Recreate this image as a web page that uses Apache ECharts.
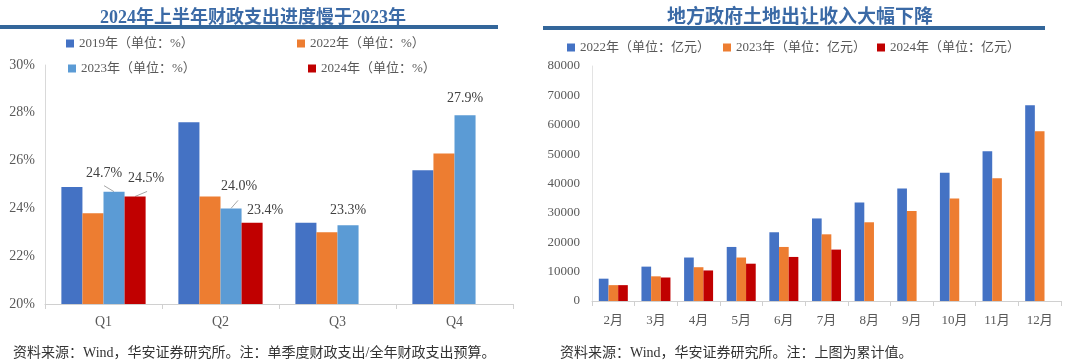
<!DOCTYPE html>
<html><head><meta charset="utf-8">
<script src="https://cdn.jsdelivr.net/npm/echarts@6/dist/echarts.min.js"></script>
<style>html,body{margin:0;padding:0;background:#fff}#c{width:1080px;height:364px}</style>
</head><body><div id="c"></div>
<script>
// Left chart data
var quarters = ['Q1', 'Q2', 'Q3', 'Q4'];
var s2019 = [24.9, 27.6, 23.4, 25.6];
var s2022 = [23.8, 24.5, 23.0, 26.3];
var s2023 = [24.7, 24.0, 23.3, 27.9];
var s2024 = [24.5, 23.4, null, null];
var leftTicks = ['20%', '22%', '24%', '26%', '28%', '30%'];

// Right chart data
var months = ['2月', '3月', '4月', '5月', '6月', '7月', '8月', '9月', '10月', '11月', '12月'];
var land2022 = [7600, 11700, 14800, 18400, 23400, 28100, 33500, 38300, 43700, 51000, 66600];
var land2023 = [5400, 8400, 11500, 14800, 18400, 22700, 26800, 30600, 34900, 41800, 57800];
var land2024 = [5400, 8000, 10400, 12700, 15000, 17500, null, null, null, null, null];

var FONT = "'Liberation Serif', 'Noto Sans CJK SC', serif";
var C_BLUE = '#4472C4', C_ORANGE = '#ED7D31', C_LBLUE = '#5B9BD5', C_RED = '#C00000';
var TXT = '#595959';

var n19 = '2019年（单位：%）', n22 = '2022年（单位：%）', n23 = '2023年（单位：%）', n24 = '2024年（单位：%）';
var r22 = '2022年（单位：亿元）', r23 = '2023年（单位：亿元）', r24 = '2024年（单位：亿元）';

// label offsets (style only)
var off23 = [[-10, -6], [8, -10], [0, -3], [0, -5]];
var off24 = [[11, -6], [13, 0]];
// leader lines: [seriesIndex, dataIndex, dx, dy] from bar top centre
var leaders = [[2, 0, -10, -6], [3, 0, 12, -5], [2, 1, 7, -8]];

function legendAt(name, left, top) {
  return { data: [name], left: left, top: top, itemWidth: 8, itemHeight: 8, icon: 'rect',
    textStyle: { fontFamily: FONT, fontSize: 13, color: TXT }, selectedMode: false, padding: 0, itemGap: 4 };
}

var chart = echarts.init(document.getElementById('c'), null, { renderer: 'canvas' });
var labelStyle = { show: true, position: 'top', distance: 5, fontFamily: FONT, fontSize: 14, color: '#404040',
  formatter: function (p) { return p.value == null ? '' : p.value.toFixed(1) + '%'; } };

var baseGraphic = [
  { type: 'rect', shape: { x: 0, y: 25, width: 498, height: 4 }, style: { fill: '#33669A' } },
  { type: 'rect', shape: { x: 543, y: 26, width: 502, height: 4 }, style: { fill: '#33669A' } }
];

chart.setOption({
  animation: false,
  textStyle: { fontFamily: FONT },
  title: [
    { text: '2024年上半年财政支出进度慢于2023年', left: 248, top: 4, textAlign: 'center',
      textStyle: { fontFamily: FONT, fontSize: 18, fontWeight: 'bold', color: '#3B6AA6' } },
    { text: '地方政府土地出让收入大幅下降', left: 795, top: 4, textAlign: 'center',
      textStyle: { fontFamily: FONT, fontSize: 19, fontWeight: 'bold', color: '#3B6AA6' } },
    { text: '资料来源：Wind，华安证券研究所。注：单季度财政支出/全年财政支出预算。', left: 8, top: 341,
      textStyle: { fontFamily: FONT, fontSize: 14, fontWeight: 'normal', color: '#333' } },
    { text: '资料来源：Wind，华安证券研究所。注：上图为累计值。', left: 555, top: 341,
      textStyle: { fontFamily: FONT, fontSize: 14, fontWeight: 'normal', color: '#333' } }
  ],
  graphic: baseGraphic,
  legend: [
    legendAt(n19, 66, 37), legendAt(n22, 297, 37), legendAt(n23, 68, 62), legendAt(n24, 308, 62),
    legendAt(r22, 567, 41), legendAt(r23, 723, 41), legendAt(r24, 877, 41)
  ],
  grid: [
    { left: 45, right: 567, top: 65, bottom: 60 },
    { left: 592, right: 19, top: 66, bottom: 63 }
  ],
  xAxis: [
    { type: 'category', gridIndex: 0, data: quarters,
      axisLine: { lineStyle: { color: '#D0D0D0' } },
      axisTick: { show: true, length: 5, interval: 0, lineStyle: { color: '#D0D0D0' } },
      axisLabel: { fontFamily: FONT, fontSize: 14, color: TXT, margin: 11 } },
    { type: 'category', gridIndex: 1, data: months,
      axisLine: { lineStyle: { color: '#D0D0D0' } },
      axisTick: { show: true, length: 5, interval: 0, lineStyle: { color: '#D0D0D0' } },
      axisLabel: { fontFamily: FONT, fontSize: 13, color: TXT, margin: 13, interval: 0 } }
  ],
  yAxis: [
    { type: 'value', gridIndex: 0, min: 20, max: 30, interval: 2,
      axisLine: { show: true, lineStyle: { color: '#D9D9D9' } }, axisTick: { show: false },
      splitLine: { show: false },
      axisLabel: { fontFamily: FONT, fontSize: 14, color: TXT, margin: 10,
        formatter: function (v) { return leftTicks[Math.round((v - 20) / 2)]; } } },
    { type: 'value', gridIndex: 1, min: 0, max: 80000, interval: 10000,
      axisLine: { show: true, lineStyle: { color: '#E3E3E3' } }, axisTick: { show: false },
      splitLine: { show: false },
      axisLabel: { fontFamily: FONT, fontSize: 13, color: TXT, margin: 12,
        formatter: function (v) { return String(v); } } }
  ],
  series: [
    { name: n19, type: 'bar', xAxisIndex: 0, yAxisIndex: 0, data: s2019, itemStyle: { color: C_BLUE },
      barGap: '0%', barCategoryGap: '28%' },
    { name: n22, type: 'bar', xAxisIndex: 0, yAxisIndex: 0, data: s2022, itemStyle: { color: C_ORANGE },
      barGap: '0%', barCategoryGap: '28%' },
    { name: n23, type: 'bar', xAxisIndex: 0, yAxisIndex: 0, data: s2023, itemStyle: { color: C_LBLUE },
      barGap: '0%', barCategoryGap: '28%', label: labelStyle,
      labelLayout: function (p) { var o = off23[p.dataIndex] || [0, 0]; return { dx: o[0], dy: o[1] }; } },
    { name: n24, type: 'bar', xAxisIndex: 0, yAxisIndex: 0, data: s2024, itemStyle: { color: C_RED },
      barGap: '0%', barCategoryGap: '28%', label: labelStyle,
      labelLayout: function (p) { var o = off24[p.dataIndex] || [0, 0]; return { dx: o[0], dy: o[1] }; } },
    { name: r22, type: 'bar', xAxisIndex: 1, yAxisIndex: 1, data: land2022, itemStyle: { color: C_BLUE },
      barGap: '0%', barCategoryGap: '32%' },
    { name: r23, type: 'bar', xAxisIndex: 1, yAxisIndex: 1, data: land2023, itemStyle: { color: C_ORANGE },
      barGap: '0%', barCategoryGap: '32%' },
    { name: r24, type: 'bar', xAxisIndex: 1, yAxisIndex: 1, data: land2024, itemStyle: { color: C_RED },
      barGap: '0%', barCategoryGap: '32%' }
  ]
});

// Leader lines from the rendered bar layouts
try {
  var model = chart.getModel();
  var extra = leaders.map(function (l) {
    var lay = model.getSeriesByIndex(l[0]).getData().getItemLayout(l[1]);
    var cx = lay.x + lay.width / 2;
    var ty = Math.min(lay.y, lay.y + lay.height);
    return { type: 'line', shape: { x1: cx, y1: ty, x2: cx + l[2], y2: ty + l[3] },
      style: { stroke: '#A6A6A6', lineWidth: 1 }, silent: true };
  });
  chart.setOption({ graphic: baseGraphic.concat(extra) });
} catch (e) {}
</script></body></html>
